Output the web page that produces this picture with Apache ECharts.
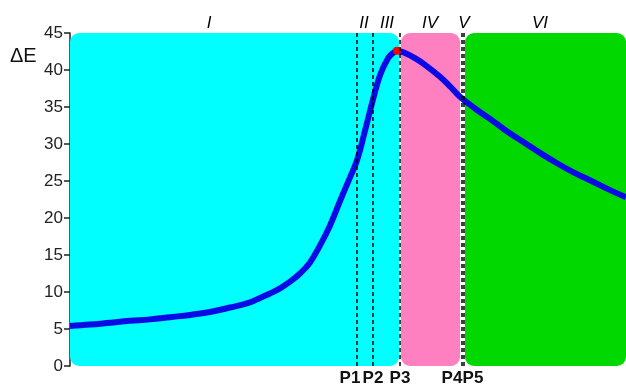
<!DOCTYPE html>
<html>
<head>
<meta charset="utf-8">
<script src="https://cdn.jsdelivr.net/npm/echarts@6/dist/echarts.min.js"></script>
<style>
  html, body { margin: 0; padding: 0; background: #fff; }
  #chart { width: 626px; height: 387px; }
</style>
</head>
<body>
<div id="chart"></div>
<script>
// curve (x in plot units, 0..556)
const curveX = [0, 20, 40, 60, 80, 100, 120, 140, 160, 180, 190, 200, 210, 220, 230, 240, 250, 260, 270, 280, 287, 295, 302, 310, 318, 323,
  327, 335, 345, 355, 370, 380, 390, 405, 420, 435, 453, 470, 487, 503, 520, 538, 556]
const curveY = [5.4, 5.6, 5.85, 6.1, 6.3, 6.6, 6.9, 7.3, 7.9, 8.6, 9.2, 9.8, 10.5, 11.4, 12.5, 14.0, 16.3, 19.0, 22.3, 25.5, 27.8, 31.8, 35.5, 39.3, 41.6, 42.3,
  42.6, 42.3, 41.6, 40.7, 39.1, 37.8, 36.4, 34.8, 33.4, 31.9, 30.3, 28.8, 27.4, 26.2, 25.1, 23.9, 22.8]
const peak = [327, 42.6]

// regions
const regionStart = [0, 331, 395]
const regionEnd = [329, 390, 556]
const regionColors = ['#00ffff', '#ff80c0', '#00d800']

// roman numeral labels above the regions
const romanNames = ['I', 'II', 'III', 'IV', 'V', 'VI']
const romanX = [139, 294, 317, 360, 394, 470]

// boundary lines
const pNames = ['P1', 'P2', 'P3', 'P4', 'P5']
const pX = [287, 303, 330, 392, 394]
const pOffset = [-7, 0, 0, -10, 9]

const chart = echarts.init(document.getElementById('chart'))

chart.setOption({
  animation: false,
  textStyle: { fontFamily: 'Liberation Sans, Arial, sans-serif' },
  title: {
    text: 'ΔE',
    left: 5,
    top: 41,
    textStyle: { fontSize: 20, fontWeight: 'normal', color: '#111' }
  },
  grid: { left: 70, right: 0, top: 33, bottom: 21 },
  xAxis: {
    type: 'value',
    min: 0,
    max: 556,
    axisLine: { show: false },
    axisTick: { show: false },
    axisLabel: { show: false },
    splitLine: { show: false }
  },
  yAxis: {
    type: 'value',
    min: 0,
    max: 45,
    interval: 5,
    axisLine: { show: true, lineStyle: { color: '#222', width: 1.5 } },
    axisTick: { show: true, length: 6, lineStyle: { color: '#222', width: 1.5 } },
    axisLabel: { fontSize: 17, color: '#222', margin: 7 },
    splitLine: { show: false }
  },
  series: [
    {
      // coloured regions with rounded corners
      type: 'custom',
      z: 1,
      silent: true,
      data: regionStart.map((s, i) => [s, regionEnd[i], i]),
      renderItem: (params, api) => {
        const p0 = api.coord([api.value(0), 45])
        const p1 = api.coord([api.value(1), 0])
        return {
          type: 'rect',
          shape: { x: p0[0], y: p0[1], width: p1[0] - p0[0], height: p1[1] - p0[1], r: 9 },
          style: { fill: regionColors[api.value(2)] }
        }
      }
    },
    {
      // roman numerals above the plot
      type: 'scatter',
      z: 2,
      silent: true,
      symbolSize: 0,
      itemStyle: { opacity: 1 },
      data: romanX.map((x, i) => ({ value: [x, 45], name: romanNames[i] })),
      label: {
        show: true,
        position: 'top',
        distance: 1,
        formatter: '{b}',
        fontSize: 17,
        fontStyle: 'italic',
        color: '#000'
      }
    },
    {
      type: 'line',
      z: 3,
      data: curveX.map((x, i) => [x, curveY[i]]),
      smooth: 0.4,
      lineStyle: { color: '#0a0ae6', width: 6 },
      showSymbol: false
    },
    {
      type: 'scatter',
      z: 4,
      data: [peak],
      symbolSize: 8,
      itemStyle: { color: '#ff0000', opacity: 1 },
      markLine: {
        silent: true,
        symbol: 'none',
        lineStyle: { color: '#000', type: [4, 3], width: 1.5 },
        data: pX.map((x, i) => ({
          xAxis: x,
          label: {
            show: true,
            position: 'start',
            distance: 4,
            offset: [pOffset[i], 0],
            formatter: pNames[i],
            fontSize: 17,
            fontWeight: 'bold',
            color: '#111'
          }
        }))
      }
    }
  ]
})
</script>
</body>
</html>
